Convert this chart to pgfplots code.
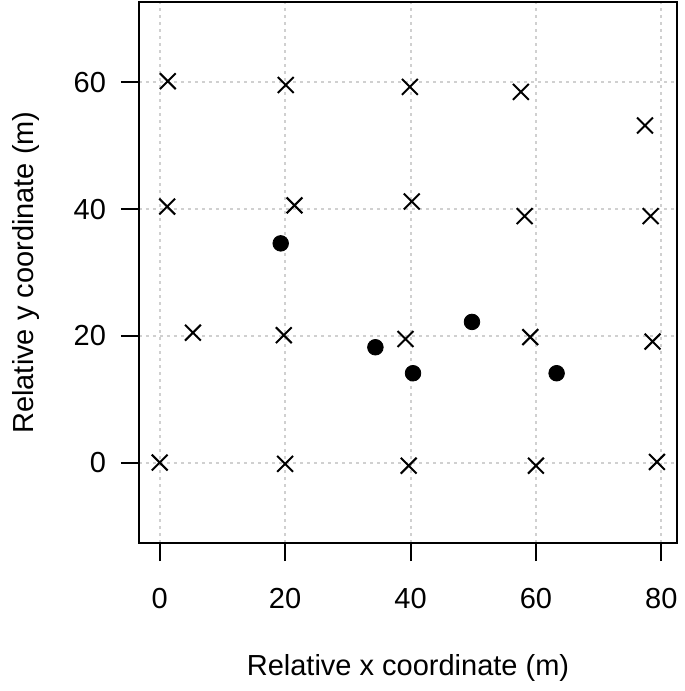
\documentclass[border=0pt]{standalone}
\usepackage{pgfplots}
\pgfplotsset{compat=1.18}
\usepackage{fontspec}
\setmainfont{Liberation Sans}
\definecolor{rgrid}{HTML}{D0D0D0}
\begin{document}
\begin{tikzpicture}
\begin{axis}[
  name=ax,
  scale only axis,
  width=269pt, height=270.5pt,
  xmin=-3.3, xmax=82.5, ymin=-12.7, ymax=72.7,
  xtick={0,20,40,60,80}, ytick={0,20,40,60},
  tick pos=left, tick align=outside,
  major tick length=9pt,
  every tick/.style={black, line width=1pt},
  axis line style={line width=1.1pt},
  grid=major,
  major grid style={rgrid, dash pattern=on 1.5pt off 2pt, line width=1pt},
  /pgf/number format/assume math mode=true,
  ticklabel style={font=\fontsize{14.5}{17}\selectfont},
  xticklabel style={anchor=north, yshift=-10pt},
  yticklabel style={anchor=east, xshift=-4pt},
  clip=false,
]
\addplot[only marks, mark=x, mark size=5.6pt, mark options={line width=1pt, black}] coordinates {
(0,0) (20.0,-0.2) (39.7,-0.5) (60.0,-0.5) (79.3,0.1)
(5.3,20.5) (19.8,20.1) (39.2,19.5) (59.1,19.8) (78.6,19.1)
(1.2,40.4) (21.5,40.6) (40.2,41.2) (58.2,38.9) (78.3,38.9)
(1.3,60.2) (20.1,59.6) (39.9,59.3) (57.6,58.5) (77.4,53.2)
};
\addplot[only marks, mark=*, mark size=3.9pt, mark options={black, fill=black}] coordinates {
(19.3,34.6) (34.4,18.2) (40.4,14.1) (49.8,22.2) (63.3,14.1)
};
\end{axis}
\node[font=\fontsize{14.5}{17}\selectfont] at ([yshift=-62.5pt]ax.south) {Relative x coordinate (m)};
\node[font=\fontsize{14.5}{17}\selectfont, rotate=90] at ([xshift=-56.5pt]ax.west) {Relative y coordinate (m)};
\path (ax.south west) ++(-69.5pt,-74pt) rectangle ++(342.5pt,345.5pt);
\end{tikzpicture}
\end{document}
